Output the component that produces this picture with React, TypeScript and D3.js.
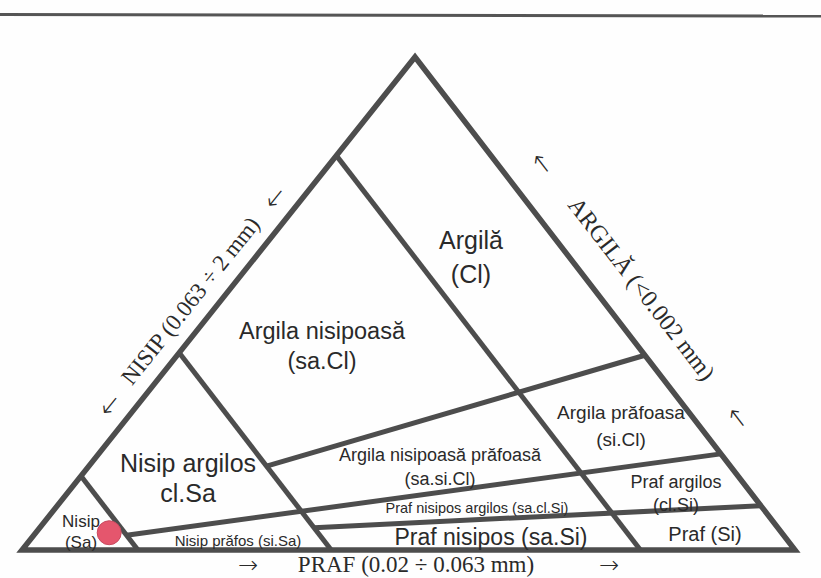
import React from "react";
import * as d3 from "d3";

const width = 821;
const height = 578;

// corners of the triangle (pixels): 100% sand bottom-left, 100% silt bottom-right, 100% clay on top
const cornerSand = [22, 550];
const cornerSilt = [795, 550];
const cornerClay = [415, 57];

// boundaries of constant sand %, left side down to the base
const sandLines = [85, 60, 20];

// boundaries running over to the right side, ends given as [clay %, silt %]
const crossStart = [
  [17, 23],
  [3, 12],
  [4.5, 35.5],
];
const crossEnd = [
  [39.5, 60.5],
  [19.5, 80.5],
  [9, 91],
];

// the plotted sample
const samples = [{ clay: 3.5, silt: 9.5 }];

const zoneNames = [
  ["Argilă", "(Cl)"],
  ["Argila nisipoasă", "(sa.Cl)"],
  ["Argila prăfoasa", "(si.Cl)"],
  ["Argila nisipoasă prăfoasă", "(sa.si.Cl)"],
  ["Nisip argilos", "cl.Sa"],
  ["Praf argilos", "(cl.Si)"],
  ["Praf nisipos argilos (sa.cl.Si)"],
  ["Nisip", "(Sa)"],
  ["Nisip prăfos (si.Sa)"],
  ["Praf nisipos (sa.Si)"],
  ["Praf (Si)"],
];

const axisTitles = {
  sand: "NISIP (0.063 ÷ 2 mm)",
  clay: "ARGILĂ (<0.002 mm)",
  silt: "PRAF (0.02 ÷ 0.063 mm)",
};

// label placement: centre x, first baseline y, font size, line gap
const zoneLayout = [
  { x: 471, y: 249, size: 25, gap: 34 },
  { x: 322, y: 339, size: 23.5, gap: 30 },
  { x: 621, y: 419, size: 19, gap: 27 },
  { x: 440, y: 461, size: 18, gap: 24 },
  { x: 188, y: 472, size: 25, gap: 30 },
  { x: 676, y: 488, size: 18, gap: 23 },
  { x: 477, y: 513, size: 14.5, gap: 0 },
  { x: 81, y: 527, size: 17, gap: 21 },
  { x: 238, y: 546, size: 15, gap: 0 },
  { x: 491, y: 545, size: 23, gap: 0 },
  { x: 705, y: 541, size: 20, gap: 0 },
];

const lineColor = "#4d4d4d";
const textColor = "#2a2a2a";
const sansFont = "'Liberation Sans', Arial, sans-serif";
const serifFont = "'Liberation Serif', 'Times New Roman', serif";
const arrowFont = "'DejaVu Sans', sans-serif";

const siltX = d3.scaleLinear().domain([0, 100]).range([cornerSand[0], cornerSilt[0]]);
const clayShift = d3.scaleLinear().domain([0, 100]).range([0, cornerClay[0] - cornerSand[0]]);
const clayY = d3.scaleLinear().domain([0, 100]).range([cornerSand[1], cornerClay[1]]);

const project = (clay: number, silt: number): [number, number] => [
  siltX(silt) + clayShift(clay),
  clayY(clay),
];

const lineGen = d3.line<[number, number]>();

// point along an edge with the edge angle
const onEdge = (p0: number[], p1: number[], dist: number) => {
  const dx = p1[0] - p0[0];
  const dy = p1[1] - p0[1];
  const len = Math.hypot(dx, dy);
  const angle = (Math.atan2(dy, dx) * 180) / Math.PI;
  return { x: p0[0] + (dx / len) * dist, y: p0[1] + (dy / len) * dist, angle };
};

const EdgeTitle = ({ p0, p1, at, arrows, off, label, size }) => {
  const items = [
    { d: arrows[0], t: "←", font: arrowFont, s: 26, w: 200, o: off - 3 },
    { d: at, t: label, font: serifFont, s: size, w: 400, o: off },
    { d: arrows[1], t: "←", font: arrowFont, s: 26, w: 200, o: off - 3 },
  ];
  return (
    <>
      {items.map((it, i) => {
        const e = onEdge(p0, p1, it.d);
        return (
          <g key={i} transform={`translate(${e.x},${e.y}) rotate(${e.angle})`}>
            <text
              y={-it.o}
              textAnchor="middle"
              fontFamily={it.font}
              fontSize={it.s}
              fontWeight={it.w}
              fill={textColor}
            >
              {it.t}
            </text>
          </g>
        );
      })}
    </>
  );
};

export default function App() {
  const outline = [project(0, 0), project(0, 100), project(100, 0)];

  return (
    <svg
      width={width}
      height={height}
      style={{ position: "absolute", left: 0, top: 0, background: "#fefefe" }}
    >
      <line x1={0} y1={14.5} x2={width} y2={16} stroke="#555" strokeWidth={3} />

      {sandLines.map((sand) => (
        <path
          key={sand}
          d={lineGen([project(100 - sand, 0), project(0, 100 - sand)])}
          stroke={lineColor}
          strokeWidth={5}
          fill="none"
        />
      ))}
      {crossStart.map((s, i) => (
        <path
          key={i}
          d={lineGen([project(s[0], s[1]), project(crossEnd[i][0], crossEnd[i][1])])}
          stroke={lineColor}
          strokeWidth={5}
          fill="none"
        />
      ))}
      <path
        d={lineGen(outline) + "Z"}
        stroke={lineColor}
        strokeWidth={5.5}
        strokeLinejoin="miter"
        strokeMiterlimit={10}
        fill="none"
      />

      {zoneNames.map((lines, i) => {
        const l = zoneLayout[i];
        return (
          <text
            key={i}
            x={l.x}
            y={l.y}
            textAnchor="middle"
            fontFamily={sansFont}
            fontSize={l.size}
            fill={textColor}
          >
            {lines.map((t, j) => (
              <tspan key={j} x={l.x} dy={j === 0 ? 0 : l.gap}>
                {t}
              </tspan>
            ))}
          </text>
        );
      })}

      {samples.map((d, i) => {
        const [x, y] = project(d.clay, d.silt);
        return (
          <circle key={i} cx={x} cy={y} r={12} fill="#e5566d" stroke="#c84a5f" strokeWidth={1} />
        );
      })}

      <EdgeTitle
        p0={cornerSand}
        p1={cornerClay}
        at={300}
        arrows={[168, 433]}
        off={16}
        label={axisTitles.sand}
        size={23}
      />
      <EdgeTitle
        p0={cornerClay}
        p1={cornerSilt}
        at={322}
        arrows={[162, 483]}
        off={30}
        label={axisTitles.clay}
        size={24}
      />

      <text x={248} y={573} textAnchor="middle" fontFamily={arrowFont} fontSize={24} fontWeight={200} fill={textColor}>
        →
      </text>
      <text x={416} y={572} textAnchor="middle" fontFamily={serifFont} fontSize={23} fill={textColor}>
        {axisTitles.silt}
      </text>
      <text x={609} y={573} textAnchor="middle" fontFamily={arrowFont} fontSize={24} fontWeight={200} fill={textColor}>
        →
      </text>
    </svg>
  );
}
